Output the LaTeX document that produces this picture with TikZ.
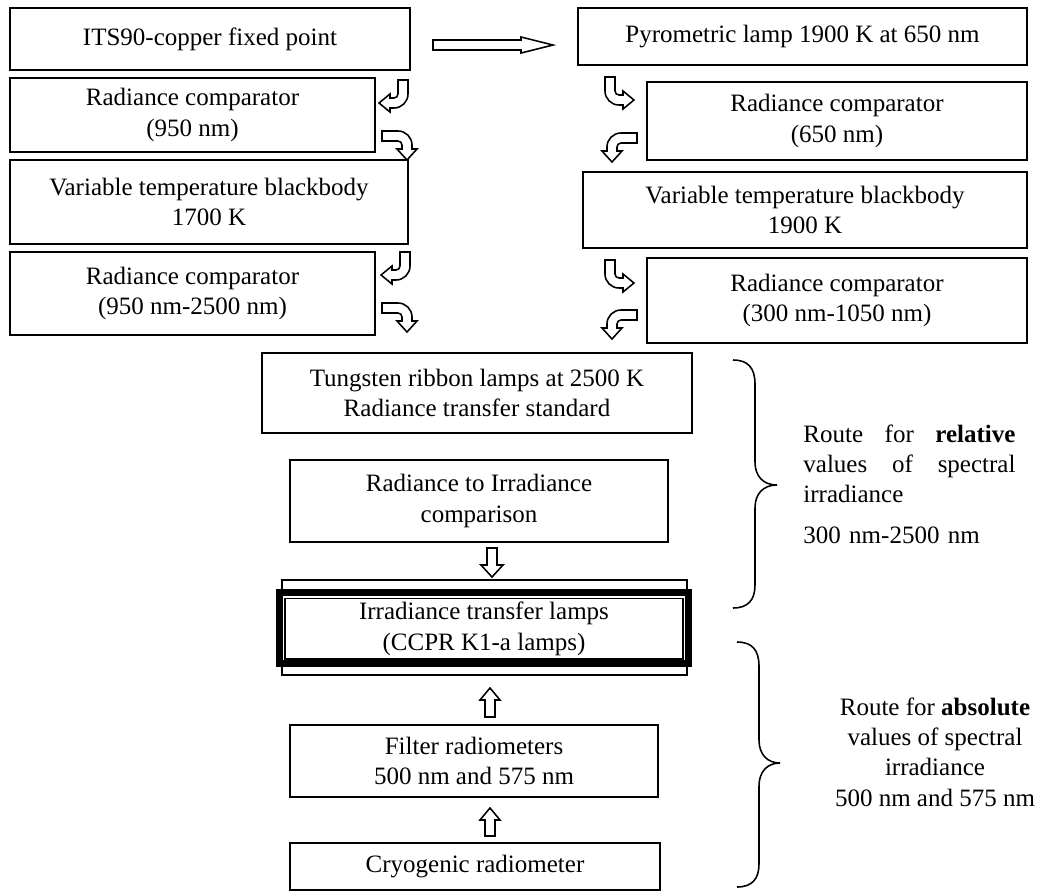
\documentclass[tikz,border=0pt]{standalone}
\usepackage{fontspec}
\setmainfont{Liberation Serif}
\usetikzlibrary{fit}
\begin{document}
\begin{tikzpicture}[x=0.48pt,y=-0.48pt,
  every node/.style={font=\fontsize{12}{14.5}\selectfont},
  box/.style={draw, line width=0.75pt, inner sep=0pt},
  label text/.style={align=center, inner sep=0pt},
  hollow/.style={draw, fill=white, line width=0.75pt, line join=miter},
  bracepath/.style={draw, line width=0.75pt},
  % stem down, turning left, head pointing left
  hookL/.pic={\path[hollow] (0,0) -- (0,14) arc[start angle=0, end angle=90, radius=14]
     -- (-18,28) -- (-18,32) -- (-29,23) -- (-18,14) -- (-18,18) -- (-14,18)
     arc[start angle=90, end angle=0, radius=4] -- (-10,0) -- cycle;},
  % stem down, turning right, head pointing right
  hookR/.pic={\path[hollow] (0,0) -- (0,14) arc[start angle=180, end angle=90, radius=14]
     -- (18,28) -- (18,32) -- (29,23) -- (18,14) -- (18,18) -- (14,18)
     arc[start angle=90, end angle=180, radius=4] -- (10,0) -- cycle;},
  % shaft from the left, turning down
  turnD/.pic={\path[hollow] (0,0) -- (16,0) arc[start angle=-90, end angle=0, radius=14]
     -- (30,18) -- (35,18) -- (25,29) -- (15,18) -- (20,18) -- (20,14)
     arc[start angle=0, end angle=-90, radius=4] -- (0,10) -- cycle;},
  % shaft from the right, turning down
  turnDL/.pic={\path[hollow] (0,0) -- (-16,0) arc[start angle=-90, end angle=-180, radius=14]
     -- (-30,18) -- (-35,18) -- (-25,29) -- (-15,18) -- (-20,18) -- (-20,14)
     arc[start angle=-180, end angle=-90, radius=4] -- (0,10) -- cycle;}
]
\useasboundingbox (0,0) rectangle (1042,892);

% left chain
\node[box, fit={(10,8) (410,70)}] (b1) {};
\node[label text] (b1t) at (b1.center) {ITS90-copper fixed point};
\node[box, fit={(10,78) (375,152)}] (b2) {};
\node[label text] (b2t) at (b2.center) {Radiance comparator\\(950 nm)};
\node[box, fit={(10,160) (408,244)}] (b3) {};
\node[label text] (b3t) at (b3.center) {Variable temperature blackbody\\1700 K};
\node[box, fit={(10,252) (375,335)}] (b4) {};
\node[label text] (b4t) at (b4.center) {Radiance comparator\\(950 nm-2500 nm)};

% right chain
\node[box, fit={(578,8) (1027,65)}] (r1) {};
\node[label text] (r1t) at (r1.center) {Pyrometric lamp 1900 K at 650 nm};
\node[box, fit={(647,82) (1027,160)}] (r2) {};
\node[label text] (r2t) at (r2.center) {Radiance comparator\\(650 nm)};
\node[box, fit={(583,172) (1027,248)}] (r3) {};
\node[label text] (r3t) at (r3.center) {Variable temperature blackbody\\1900 K};
\node[box, fit={(647,258) (1027,343)}] (r4) {};
\node[label text] (r4t) at (r4.center) {Radiance comparator\\(300 nm-1050 nm)};

% central chain
\node[box, fit={(262,353) (692,433)}] (c1) {};
\node[label text] (c1t) at (c1.center) {Tungsten ribbon lamps at 2500 K\\Radiance transfer standard};
\node[box, fit={(290,460) (668,542)}] (c2) {};
\node[label text] (c2t) at (c2.center) {Radiance to Irradiance\\comparison};
\node[box, fit={(282,580) (687,675)}] (irrout) {};
\node[box, line width=3.4pt, fill=white, fit={(279.7,592.3) (688.3,663.7)}] (irr) {};
\node[box, fit={(285,598.5) (683,659)}] (irrin) {};
\node[label text] (irrt) at (irrin.center) {Irradiance transfer lamps\\(CCPR K1-a lamps)};
\node[box, fit={(290,725) (658,797)}] (filt) {};
\node[label text] (filtt) at (filt.center) {Filter radiometers\\500 nm and 575 nm};
\node[box, fit={(290,843) (660,890)}] (cryo) {};
\node[label text] (cryot) at (cryo.center) {Cryogenic radiometer};

% block arrows
\path[hollow] (433,40) -- (521,40) -- (521,37) -- (553,45) -- (521,53) -- (521,50) -- (433,50) -- cycle;
\pic at (408,80) {hookL};
\pic at (382,131) {turnD};
\pic at (410,252) {hookL};
\pic at (382,303) {turnD};
\pic at (605,77) {hookR};
\pic at (637,133) {turnDL};
\pic at (605,260) {hookR};
\pic at (637,310) {turnDL};
\path[hollow] (487,548) -- (497,548) -- (497,565) -- (503,565) -- (492,577) -- (481,565) -- (487,565) -- cycle;
\path[hollow] (490,688) -- (500,700) -- (495,700) -- (495,717) -- (485,717) -- (485,700) -- (480,700) -- cycle;
\path[hollow] (490,808) -- (500,820) -- (495,820) -- (495,836) -- (485,836) -- (485,820) -- (480,820) -- cycle;

% braces
\path[bracepath] (733,360) .. controls (748,360) and (755,368) .. (755,384) -- (755,462)
  .. controls (755,476) and (763,485) .. (777,485) .. controls (763,485) and (755,494) .. (755,508)
  -- (755,585) .. controls (755,600) and (748,608) .. (733,608);
\path[bracepath] (737,642) .. controls (752,642) and (759,650) .. (759,666) -- (759,740)
  .. controls (759,754) and (767,763) .. (780,763) .. controls (767,763) and (759,772) .. (759,786)
  -- (759,864) .. controls (759,879) and (752,887) .. (737,887);

% route descriptions
\node[anchor=north west, inner sep=0pt, text width=101.8pt, align=left] (reltxt) at (803,424)
  {Route\hfill for\hfill \textbf{relative}\\ values\hfill of\hfill spectral\\ irradiance\\[5pt] 300 nm-2500 nm};
\node[align=center, inner sep=0pt] (abstxt) at (935,752)
  {Route for \textbf{absolute}\\values of spectral\\irradiance\\500 nm and 575 nm};
\end{tikzpicture}
\end{document}
